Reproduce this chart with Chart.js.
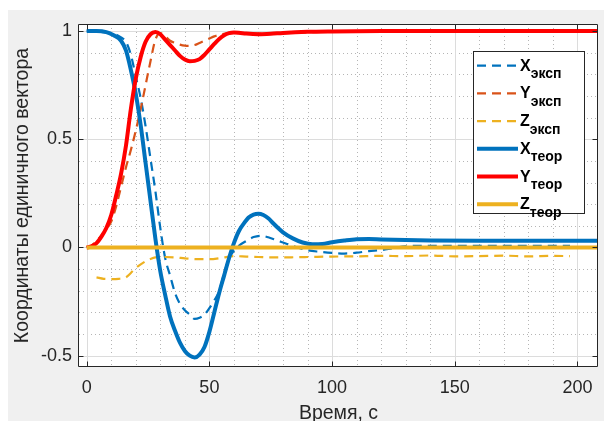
<!DOCTYPE html>
<html lang="ru">
<head>
<meta charset="UTF-8">
<title>Координаты единичного вектора</title>
<script src="https://cdn.jsdelivr.net/npm/chart.js"></script>
<style>
  html, body { margin: 0; padding: 0; background: #fff; }
</style>
</head>
<body>
<canvas id="chart" width="604" height="421"></canvas>
<script>
// time, s / component values
const xExpT = [0,2,4,6,8,10,12,14,16,18,20,22,24,26,28,30,32,34,36,38,40,42,44,46,48,50,52,54,56,58,60,62,65,68,71,74,77,80,85,90,95,100,105,110,115,120,125,130,140,150,160,170,180,190,197];
const xExpV = [1,1,0.998,0.995,0.992,0.988,0.983,0.97,0.95,0.89,0.79,0.69,0.56,0.41,0.26,0.09,-0.05,-0.13,-0.21,-0.26,-0.29,-0.31,-0.33,-0.325,-0.31,-0.28,-0.245,-0.2,-0.12,-0.05,-0.015,0.008,0.03,0.048,0.054,0.047,0.035,0.023,0.003,-0.013,-0.02,-0.025,-0.028,-0.024,-0.017,-0.012,-0.003,0.005,0.008,0.008,0.008,0.008,0.008,0.008,0.008];

const yExpT = [0,2,4,6,8,10,12,14,16,18,20,22,24,26,28,30,32,34,36,38,40,42,44,46,48,50,52,55,60,70,80,90,100,120,150,197];
const yExpV = [0,0.01,0.03,0.055,0.085,0.12,0.19,0.28,0.37,0.45,0.54,0.64,0.75,0.86,0.96,0.99,0.975,0.955,0.945,0.937,0.932,0.931,0.935,0.945,0.955,0.965,0.975,0.985,0.99,0.988,0.99,0.994,0.996,0.997,0.998,0.998];

const zExpT = [4,7,10,13,16,18,20,22,24,26,28,32,36,40,45,50,55,60,65,70,75,80,85,90,100,110,120,130,140,150,160,170,180,190,197];
const zExpV = [-0.138,-0.145,-0.146,-0.145,-0.138,-0.118,-0.095,-0.078,-0.064,-0.053,-0.046,-0.044,-0.046,-0.05,-0.054,-0.054,-0.048,-0.04,-0.042,-0.044,-0.046,-0.046,-0.045,-0.044,-0.042,-0.041,-0.039,-0.04,-0.037,-0.041,-0.04,-0.038,-0.041,-0.039,-0.04];

const xTeoT = [0,4,8,11,14,16,18,20,22,24,26,28,30,32,34,36,38,40,42,44,46,48,50,52,54,56,58,60,62,64,66,68,70,72,74,76,78,80,84,88,92,96,100,105,110,115,120,130,140,160,180,208];
const xTeoV = [1,1,0.995,0.98,0.955,0.91,0.82,0.71,0.565,0.39,0.215,0.04,-0.11,-0.22,-0.32,-0.385,-0.44,-0.478,-0.5,-0.508,-0.495,-0.46,-0.39,-0.3,-0.21,-0.13,-0.05,0.02,0.075,0.11,0.138,0.152,0.156,0.15,0.135,0.112,0.09,0.07,0.042,0.023,0.015,0.016,0.024,0.032,0.038,0.039,0.037,0.034,0.032,0.031,0.031,0.031];

const yTeoT = [0,2,4,6,8,10,12,14,16,18,20,22,24,26,28,30,32,34,36,38,40,42,44,46,48,50,52,54,56,58,60,62,65,70,75,80,90,100,120,208];
const yTeoV = [0,0.005,0.02,0.05,0.09,0.15,0.24,0.34,0.47,0.64,0.78,0.88,0.95,0.985,0.995,0.985,0.96,0.935,0.91,0.885,0.868,0.86,0.862,0.87,0.89,0.915,0.94,0.963,0.98,0.99,0.993,0.992,0.988,0.985,0.987,0.991,0.996,0.998,1,1];

const zTeoT = [0,208];
const zTeoV = [0,0];

const legendMain = ['X','Y','Z','X','Y','Z'];
const legendSub = ['эксп','эксп','эксп','теор','теор','теор'];

const FONT = "'Liberation Sans', Arial, sans-serif";
const TXT = '#262626';

const pts = (t, v) => t.map((x, i) => ({ x: x, y: v[i] }));

function line(idx, t, v, color, dashed) {
  return {
    label: legendMain[idx] + legendSub[idx],
    data: pts(t, v),
    borderColor: color,
    borderWidth: dashed ? 2.2 : 4,
    borderDash: dashed ? [9, 6] : [],
    pointRadius: 0,
    fill: false,
    cubicInterpolationMode: 'monotone',
    order: 5 - idx   // later series on top, as in the original
  };
}

function isMajorY(v) {
  return Math.abs(v * 2 - Math.round(v * 2)) < 1e-6;
}

// grid, axes box, inward ticks, legend
const axesBox = {
  id: 'axesBox',
  beforeDraw(chart) {
    const { ctx, chartArea: a } = chart;
    const sx = chart.scales.x, sy = chart.scales.y;
    ctx.save();
    ctx.fillStyle = '#fff';
    ctx.fillRect(0, 0, chart.width, chart.height);
    ctx.fillStyle = '#f0f0f0';
    ctx.fillRect(8, 10, chart.width - 8, chart.height - 10);
    ctx.fillStyle = '#fff';
    ctx.fillRect(a.left, a.top, a.right - a.left, a.bottom - a.top);

    ctx.lineWidth = 1;
    // minor dotted
    ctx.strokeStyle = '#b5b5b5';
    ctx.setLineDash([1, 3]);
    ctx.beginPath();
    sx.ticks.forEach(t => {
      if (t.value % 50 === 0) return;
      const p = Math.round(sx.getPixelForValue(t.value)) + 0.5;
      ctx.moveTo(p, a.top); ctx.lineTo(p, a.bottom);
    });
    sy.ticks.forEach(t => {
      if (isMajorY(t.value)) return;
      const p = Math.round(sy.getPixelForValue(t.value)) + 0.5;
      ctx.moveTo(a.left, p); ctx.lineTo(a.right, p);
    });
    ctx.stroke();
    // major solid
    ctx.setLineDash([]);
    ctx.strokeStyle = '#dcdcdc';
    ctx.beginPath();
    sx.ticks.forEach(t => {
      if (t.value % 50 !== 0) return;
      const p = Math.round(sx.getPixelForValue(t.value)) + 0.5;
      ctx.moveTo(p, a.top); ctx.lineTo(p, a.bottom);
    });
    sy.ticks.forEach(t => {
      if (!isMajorY(t.value)) return;
      const p = Math.round(sy.getPixelForValue(t.value)) + 0.5;
      ctx.moveTo(a.left, p); ctx.lineTo(a.right, p);
    });
    ctx.stroke();
    ctx.restore();
  },
  afterDatasetsDraw(chart) {
    const { ctx, chartArea: a } = chart;
    const sx = chart.scales.x, sy = chart.scales.y;
    const L = Math.round(a.left) - 0.5, R = Math.round(a.right) - 0.5;
    const T = Math.round(a.top) + 0.5, B = Math.round(a.bottom) - 0.5;
    ctx.save();
    ctx.strokeStyle = TXT;
    ctx.lineWidth = 1;
    ctx.beginPath();
    ctx.rect(L, T, R - L, B - T);
    sx.ticks.forEach(t => {
      if (t.value % 50 !== 0) return;
      const p = Math.round(sx.getPixelForValue(t.value)) + 0.5;
      ctx.moveTo(p, B); ctx.lineTo(p, B - 5);
      ctx.moveTo(p, T); ctx.lineTo(p, T + 5);
    });
    sy.ticks.forEach(t => {
      if (!isMajorY(t.value)) return;
      const p = Math.round(sy.getPixelForValue(t.value)) + 0.5;
      ctx.moveTo(L, p); ctx.lineTo(L + 5, p);
      ctx.moveTo(R, p); ctx.lineTo(R - 5, p);
    });
    ctx.stroke();
    ctx.restore();
  },
  afterDraw(chart) {
    const ctx = chart.ctx;
    const x0 = 473, y0 = 51, w = 111, h = 162;
    ctx.save();
    ctx.fillStyle = '#fff';
    ctx.fillRect(x0, y0, w, h);
    ctx.strokeStyle = TXT;
    ctx.lineWidth = 1;
    ctx.strokeRect(x0 + 0.5, y0 + 0.5, w, h);
    chart.data.datasets.forEach((ds, i) => {
      const y = y0 + 14.7 + i * 27.7;
      ctx.beginPath();
      ctx.setLineDash(ds.borderDash);
      ctx.strokeStyle = ds.borderColor;
      ctx.lineWidth = ds.borderWidth;
      ctx.moveTo(477, y);
      ctx.lineTo(518, y);
      ctx.stroke();
      ctx.setLineDash([]);
      ctx.fillStyle = '#000';
      ctx.textBaseline = 'alphabetic';
      ctx.font = 'bold 16px ' + FONT;
      ctx.fillText(legendMain[i], 520, y + 5);
      const mw = ctx.measureText(legendMain[i]).width;
      ctx.font = 'bold 14px ' + FONT;
      ctx.fillText(legendSub[i], 520 + mw, y + 12.5);
    });
    ctx.restore();
  }
};

new Chart(document.getElementById('chart'), {
  type: 'line',
  data: {
    datasets: [
      line(0, xExpT, xExpV, '#0072BD', true),
      line(1, yExpT, yExpV, '#D95319', true),
      line(2, zExpT, zExpV, '#EDB120', true),
      line(3, xTeoT, xTeoV, '#0072BD', false),
      line(4, yTeoT, yTeoV, '#FF0000', false),
      line(5, zTeoT, zTeoV, '#EDB120', false)
    ]
  },
  options: {
    responsive: false,
    animation: false,
    layout: { padding: { left: 0, top: 24, right: 6, bottom: 0 } },
    plugins: { legend: { display: false }, tooltip: { enabled: false } },
    scales: {
      x: {
        type: 'linear',
        min: -3.14,
        max: 208.4,
        afterFit: s => { s.height = 54; },
        grid: { display: false, drawTicks: false, tickLength: 0 },
        border: { display: false },
        ticks: {
          stepSize: 10,
          includeBounds: false,
          autoSkip: false,
          maxRotation: 0,
          padding: 10,
          color: TXT,
          font: { family: FONT, size: 18 },
          callback: v => (v % 50 === 0 ? String(v) : '')
        },
        title: {
          display: true,
          text: 'Время, с',
          color: TXT,
          font: { family: FONT, size: 19.5 },
          padding: { top: 0, bottom: -4.5 }
        }
      },
      y: {
        type: 'linear',
        min: -0.5522,
        max: 1.0323,
        afterFit: s => { s.width = 79; },
        grid: { display: false, drawTicks: false, tickLength: 0 },
        border: { display: false },
        ticks: {
          stepSize: 0.1,
          includeBounds: false,
          autoSkip: false,
          padding: 7,
          color: TXT,
          font: { family: FONT, size: 18 },
          callback: v => (isMajorY(v) ? String(Math.round(v * 2) / 2) : '')
        },
        title: {
          display: true,
          text: 'Координаты единичного вектора',
          color: TXT,
          font: { family: FONT, size: 19.5 },
          padding: { top: 11.3, bottom: 0 }
        }
      }
    }
  },
  plugins: [axesBox]
});
</script>
</body>
</html>
